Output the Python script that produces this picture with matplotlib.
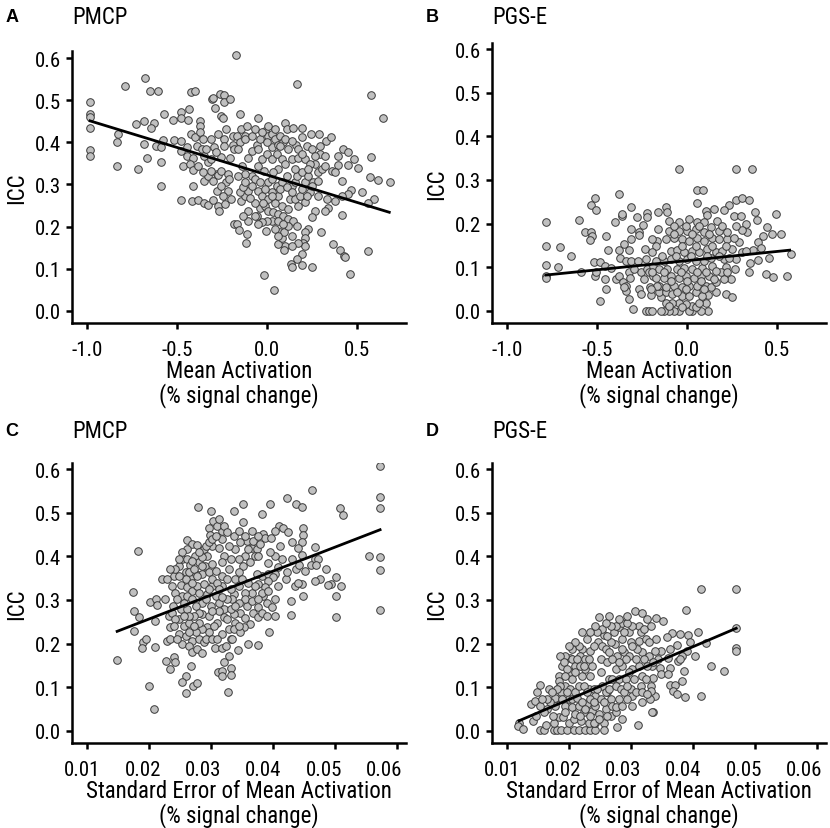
import matplotlib
matplotlib.use("Agg")
import matplotlib.pyplot as plt
from matplotlib.transforms import ScaledTranslation

plt.rcParams['font.family'] = ['Roboto Condensed', 'Liberation Sans Narrow', 'Arial Narrow',
                               'Liberation Sans', 'DejaVu Sans']

# ---- panel A: PMCP, mean activation vs ICC ----
a_x = [-0.985, -0.985, -0.985, -0.985, -0.985, -0.985, -0.793, -0.679, -0.653, -0.609,
       -0.832, -0.836, -0.838, -0.729, -0.686, -0.629, -0.648, -0.686, -0.666, -0.718,
       -0.574, -0.618, -0.592, -0.577, -0.589, -0.589, -0.524, -0.518, -0.482, -0.482,
       -0.434, -0.439, -0.423, -0.404, -0.478, -0.478, -0.446, -0.445, -0.470, -0.423,
       -0.404, -0.375, -0.375, -0.375, -0.358, -0.390, -0.365, -0.415, -0.432, -0.412,
       -0.412, -0.478, -0.419, -0.386, -0.354, -0.330, -0.299, -0.273, -0.269, -0.234,
       -0.352, -0.330, -0.299, -0.280, -0.273, -0.256, -0.220, -0.227, -0.216, -0.280,
       -0.330, -0.297, -0.308, -0.303, -0.264, -0.240, -0.238, -0.209, -0.291, -0.256,
       -0.247, -0.227, -0.275, -0.240, -0.240, -0.256, -0.205, -0.192, -0.192, -0.183,
       -0.183,
       -0.174, 0.163, 0.574, 0.641, -0.150, -0.052, -0.146, -0.111, -0.169, -0.152,
       -0.124, -0.087, -0.161, -0.106, -0.059, -0.041, -0.013, 0.002, 0.024, 0.043,
       0.070, 0.098, 0.107, 0.144, 0.191, 0.117, 0.159, 0.194, 0.219, 0.243,
       0.289, 0.324, 0.352, 0.293, 0.293, 0.422, 0.446, 0.394, 0.481, 0.450,
       0.394, 0.506, 0.576, 0.572, 0.613, 0.681, 0.524, 0.594, 0.561, 0.413,
       0.463, 0.450, 0.417, 0.376, 0.417, 0.330, 0.339, 0.320, 0.280, 0.265,
       0.246, 0.228, 0.296, 0.209, 0.209, 0.196, 0.209, 0.191, 0.163, 0.130,
       0.139, 0.191, 0.246, 0.363, 0.404, 0.428, 0.431, 0.561, 0.461, -0.019,
       0.039, 0.098, 0.094, 0.061, 0.080, 0.070, 0.094, 0.043, 0.024, 0.000,
       -0.031, -0.007, -0.050, -0.059, -0.041, -0.069, -0.109, -0.106, -0.170, -0.157,
       -0.115, -0.120, -0.146, -0.124, -0.106, -0.152, -0.133, -0.050, -0.031, 0.006,
       0.043, 0.061, 0.080, 0.117, 0.126, 0.154, 0.172, 0.181, 0.209, 0.237,
       0.219, 0.006, 0.024, 0.052, 0.080, 0.107, 0.135, 0.154, 0.163, 0.191,
       0.209, 0.228, 0.256, 0.280, 0.265, 0.302, 0.320, 0.357, 0.376, -0.017,
       -0.050, -0.087, -0.124, -0.161, -0.143, -0.069, -0.031, -0.004, 0.024, 0.052,
       0.080, 0.098, 0.135, 0.172, 0.209, 0.237, 0.024, 0.061, 0.089, -0.004,
       -0.050, -0.013, 0.006, 0.033, 0.061, 0.089, 0.117, 0.144, 0.117, 0.163,
       0.024, -0.013,
       -0.124, -0.087, -0.069, -0.031, 0.006, 0.043, 0.070, 0.098, 0.135, 0.172,
       0.191, 0.246, 0.265, 0.320, 0.228, 0.154, 0.061, 0.033, -0.041, -0.087,
       -0.124, -0.096, -0.022, 0.024, 0.070, 0.107, 0.135, 0.191, 0.246, 0.283,
       0.061, 0.089, 0.061, 0.135, 0.172, 0.135, -0.069, -0.133,
       -0.349, -0.312, -0.284, -0.312, -0.339, -0.386, -0.358, -0.312, -0.256, -0.210,
       -0.247, -0.201]
a_y = [0.496, 0.467, 0.461, 0.435, 0.383, 0.367, 0.534, 0.554, 0.521, 0.522,
       0.421, 0.402, 0.344, 0.444, 0.451, 0.447, 0.433, 0.396, 0.362, 0.337,
       0.468, 0.391, 0.388, 0.405, 0.354, 0.297, 0.454, 0.406, 0.471, 0.459,
       0.479, 0.453, 0.519, 0.521, 0.404, 0.380, 0.388, 0.368, 0.343, 0.421,
       0.412, 0.451, 0.438, 0.424, 0.408, 0.392, 0.384, 0.362, 0.348, 0.335,
       0.297, 0.263, 0.260, 0.263, 0.255, 0.252, 0.264, 0.249, 0.236, 0.253,
       0.309, 0.319, 0.309, 0.325, 0.322, 0.333, 0.325, 0.305, 0.285, 0.285,
       0.354, 0.390, 0.503, 0.506, 0.515, 0.512, 0.497, 0.503, 0.481, 0.462,
       0.458, 0.432, 0.420, 0.409, 0.392, 0.366, 0.364, 0.414, 0.394, 0.384,
       0.206,
       0.607, 0.538, 0.513, 0.458, 0.467, 0.458, 0.432, 0.438, 0.416, 0.400,
       0.416, 0.380, 0.384, 0.364, 0.394, 0.408, 0.428, 0.416, 0.420, 0.408,
       0.416, 0.447, 0.432, 0.435, 0.435, 0.384, 0.394, 0.412, 0.392, 0.421,
       0.421, 0.404, 0.413, 0.392, 0.372, 0.384, 0.378, 0.368, 0.360, 0.346,
       0.346, 0.339, 0.366, 0.317, 0.310, 0.307, 0.281, 0.265, 0.257, 0.309,
       0.287, 0.277, 0.273, 0.261, 0.228, 0.265, 0.245, 0.238, 0.273, 0.238,
       0.222, 0.194, 0.188, 0.186, 0.174, 0.161, 0.154, 0.135, 0.124, 0.110,
       0.103, 0.108, 0.105, 0.158, 0.145, 0.131, 0.127, 0.141, 0.087, 0.086,
       0.050, 0.154, 0.145, 0.158, 0.172, 0.186, 0.188, 0.194, 0.214, 0.214,
       0.210, 0.190, 0.206, 0.226, 0.245, 0.257, 0.238, 0.214, 0.206, 0.192,
       0.182, 0.162, 0.260, 0.273, 0.285, 0.281, 0.293, 0.285, 0.272, 0.265,
       0.257, 0.273, 0.249, 0.242, 0.265, 0.265, 0.249, 0.273, 0.259, 0.281,
       0.273, 0.305, 0.313, 0.297, 0.305, 0.321, 0.297, 0.305, 0.321, 0.329,
       0.305, 0.321, 0.305, 0.329, 0.348, 0.336, 0.344, 0.333, 0.329, 0.333,
       0.344, 0.321, 0.325, 0.321, 0.344, 0.313, 0.360, 0.372, 0.360, 0.372,
       0.360, 0.348, 0.360, 0.364, 0.360, 0.348, 0.388, 0.394, 0.400, 0.400,
       0.384, 0.249, 0.238, 0.234, 0.230, 0.226, 0.218, 0.214, 0.202, 0.202,
       0.281, 0.289,
       0.408, 0.416, 0.432, 0.424, 0.439, 0.432, 0.392, 0.408, 0.404, 0.384,
       0.372, 0.384, 0.368, 0.368, 0.336, 0.336, 0.336, 0.329, 0.305, 0.297,
       0.305, 0.269, 0.257, 0.273, 0.289, 0.293, 0.281, 0.289, 0.297, 0.309,
       0.214, 0.206, 0.178, 0.178, 0.162, 0.154, 0.226, 0.226,
       0.368, 0.360, 0.376, 0.408, 0.384, 0.344, 0.329, 0.333, 0.297, 0.313,
       0.273, 0.265]
a_line_x = [-0.985, 0.678]
a_line_y = [0.451, 0.234]

# ---- panel B: PGS-E, mean activation vs ICC ----
b_x = [-0.785, -0.785, -0.785, -0.785, -0.784, -0.705, -0.718, -0.647, -0.603, -0.590,
       -0.571, -0.534, -0.528, -0.543, -0.513, -0.535, -0.509, -0.519, -0.487, -0.513,
       -0.509, -0.457, -0.450, -0.487, -0.450, -0.442, -0.457, -0.424, -0.401, -0.364,
       -0.364, -0.379, -0.382, -0.373, -0.349, -0.323, -0.312, -0.315, -0.313, -0.282,
       -0.267, -0.271, -0.248, -0.226, -0.226, -0.237, -0.394, -0.379, -0.360, -0.341,
       -0.341, -0.351, -0.323, -0.319, -0.323, -0.304, -0.341, -0.313, -0.276, -0.257,
       -0.267, -0.257, -0.295, -0.229, -0.226, -0.239, -0.207, -0.201, -0.229, -0.211,
       -0.196, -0.211, -0.192, -0.192,
       -0.048, 0.269, 0.361, 0.054, 0.087, 0.052, 0.269, 0.302, 0.341, 0.231,
       0.206, 0.259, 0.148, 0.102, 0.107, 0.376, 0.491, 0.389, 0.443, 0.472,
       0.522, 0.422, 0.391, 0.407, 0.365, 0.574, 0.454, 0.391, 0.346, 0.343,
       0.435, 0.474, 0.554, 0.324, 0.333, 0.306, 0.287, 0.306, 0.269, 0.265,
       0.244, 0.204, 0.213, 0.213, 0.246, 0.157, 0.117, 0.102, 0.117, 0.074,
       0.028, 0.009, -0.046, -0.074, -0.102, -0.130, -0.148, 0.028, 0.046, 0.065,
       -0.009, -0.046, -0.083, -0.120, -0.148, -0.157, -0.120, -0.083, -0.028, 0.009,
       0.046, 0.083, -0.157, -0.120, -0.074, -0.028, 0.009, 0.056, 0.102, 0.130,
       0.157, -0.176, -0.130, -0.093, -0.046, -0.009, 0.037, 0.074, 0.120, 0.148,
       0.185, -0.157, -0.111, -0.056, -0.019, 0.028, 0.083, 0.139, 0.157, -0.176,
       -0.130, -0.093, -0.046, 0.000, 0.046, 0.093, 0.130, 0.204, 0.231, -0.093,
       -0.056, -0.019, 0.028, 0.065, 0.111, 0.157, 0.194, 0.250, 0.324, -0.170,
       -0.120, -0.074, -0.028, 0.009, 0.056, 0.093, 0.139, 0.176, 0.222, 0.259,
       -0.163, -0.102, -0.046, 0.000, 0.046, 0.093, 0.130, 0.176, 0.222, -0.102,
       -0.046, 0.009, 0.056, 0.093, 0.167, -0.161, -0.117, -0.111,
       -0.139, -0.065, 0.019, 0.111, 0.176, -0.176, -0.028, 0.046, 0.139, 0.213,
       -0.074, 0.028, 0.120, -0.130, -0.037, 0.056, 0.102, 0.222, -0.167, -0.093,
       0.000, 0.074, -0.056, -0.009, 0.093, -0.102, -0.028, -0.194, -0.194, -0.194,
       -0.204, 0.065, -0.009, -0.074, 0.194, 0.269, 0.296]
b_y = [0.203, 0.148, 0.105, 0.079, 0.076, 0.147, 0.101, 0.125, 0.209, 0.088,
       0.180, 0.180, 0.172, 0.162, 0.259, 0.243, 0.232, 0.111, 0.112, 0.079,
       0.088, 0.074, 0.051, 0.022, 0.172, 0.139, 0.103, 0.097, 0.204, 0.218,
       0.223, 0.268, 0.140, 0.122, 0.152, 0.140, 0.164, 0.187, 0.239, 0.214,
       0.181, 0.174, 0.197, 0.224, 0.216, 0.141, 0.073, 0.079, 0.065, 0.057,
       0.046, 0.054, 0.088, 0.076, 0.027, 0.005, 0.115, 0.115, 0.115, 0.088,
       0.050, 0.038, 0.096, 0.119, 0.096, 0.074, 0.054, 0.036, 0.000, 0.000,
       0.000, 0.088, 0.080, 0.103,
       0.326, 0.326, 0.326, 0.276, 0.278, 0.248, 0.255, 0.259, 0.253, 0.242,
       0.231, 0.218, 0.233, 0.228, 0.220, 0.227, 0.222, 0.209, 0.192, 0.177,
       0.177, 0.171, 0.157, 0.143, 0.140, 0.131, 0.120, 0.117, 0.109, 0.090,
       0.084, 0.078, 0.080, 0.199, 0.180, 0.186, 0.157, 0.134, 0.119, 0.096,
       0.073, 0.073, 0.101, 0.038, 0.032, 0.044, 0.036, 0.019, 0.000, 0.000,
       0.000, 0.000, 0.000, 0.000, 0.000, 0.000, 0.000, 0.011, 0.008, 0.019,
       0.015, 0.019, 0.019, 0.019, 0.031, 0.042, 0.042, 0.038, 0.034, 0.034,
       0.042, 0.034, 0.057, 0.054, 0.057, 0.054, 0.057, 0.057, 0.057, 0.054,
       0.065, 0.076, 0.076, 0.080, 0.076, 0.080, 0.076, 0.080, 0.080, 0.073,
       0.088, 0.096, 0.096, 0.096, 0.099, 0.096, 0.099, 0.103, 0.092, 0.115,
       0.115, 0.119, 0.115, 0.119, 0.115, 0.115, 0.122, 0.119, 0.122, 0.138,
       0.140, 0.134, 0.138, 0.134, 0.141, 0.134, 0.138, 0.141, 0.138, 0.161,
       0.164, 0.168, 0.164, 0.161, 0.168, 0.161, 0.168, 0.164, 0.164, 0.168,
       0.187, 0.183, 0.183, 0.183, 0.187, 0.180, 0.191, 0.183, 0.180, 0.206,
       0.204, 0.210, 0.203, 0.203, 0.206, 0.227, 0.237, 0.226,
       0.126, 0.126, 0.126, 0.126, 0.126, 0.149, 0.149, 0.149, 0.149, 0.149,
       0.176, 0.176, 0.176, 0.088, 0.088, 0.088, 0.088, 0.088, 0.057, 0.069,
       0.069, 0.069, 0.042, 0.050, 0.050, 0.011, 0.008, 0.134, 0.164, 0.088,
       0.050, 0.195, 0.195, 0.195, 0.195, 0.195, 0.218]
b_line_x = [-0.785, 0.569]
b_line_y = [0.082, 0.139]

# ---- panel C: PMCP, standard error vs ICC ----
c_x = [0.01481, 0.01811, 0.01730, 0.01751, 0.01757, 0.01838, 0.01892, 0.01881, 0.01946, 0.02000,
       0.02076, 0.02086, 0.02097, 0.02005, 0.02114, 0.02124, 0.02205, 0.02259, 0.02270, 0.02341,
       0.02395, 0.02422, 0.02286, 0.02330, 0.02341, 0.02314, 0.02378, 0.02400, 0.02503, 0.02530,
       0.02486, 0.02611, 0.02600, 0.02681, 0.02773, 0.02735, 0.02649, 0.02584, 0.02665, 0.02746,
       0.02611, 0.02692, 0.02773, 0.02530, 0.02503, 0.02611, 0.02486, 0.02557, 0.02638, 0.02476,
       0.02595, 0.02692, 0.02530, 0.02638, 0.02692, 0.02773, 0.02800, 0.02854, 0.02665, 0.02584,
       0.02530, 0.02703, 0.02762, 0.02595, 0.02789, 0.02995, 0.03032, 0.02962, 0.02973, 0.02881,
       0.03016, 0.02935, 0.02897, 0.03016, 0.02854, 0.02962, 0.03070, 0.02881, 0.03016, 0.02935,
       0.03070, 0.02854, 0.02989, 0.03124, 0.02854, 0.02962, 0.03097, 0.02935, 0.03043, 0.03178,
       0.02881, 0.03059, 0.03178, 0.03205, 0.03114, 0.03168, 0.03178, 0.03276, 0.03178, 0.03178,
       0.03124, 0.03205, 0.03178, 0.03178, 0.03178, 0.03205, 0.03205,
       0.05722, 0.05722, 0.05722, 0.05722, 0.05551, 0.05722, 0.05722, 0.04631, 0.04219, 0.04369,
       0.04460, 0.05070, 0.05123, 0.03947, 0.03519, 0.03364, 0.03519, 0.03824, 0.04091, 0.04160,
       0.04230, 0.04471, 0.04471, 0.04460, 0.04401, 0.04465, 0.04679, 0.04668, 0.04722, 0.04358,
       0.04412, 0.04508, 0.04604, 0.04695, 0.04856, 0.04749, 0.04668, 0.05005, 0.05096, 0.04936,
       0.04882, 0.05016, 0.05016, 0.04455, 0.04348, 0.04390, 0.04471, 0.04278, 0.04283, 0.04198,
       0.04080, 0.04027, 0.03909, 0.03813, 0.03840, 0.03866, 0.03963, 0.04027, 0.03652, 0.03572,
       0.03652, 0.03733, 0.03706, 0.03545, 0.03465, 0.03385, 0.03439, 0.03733, 0.03920, 0.04000,
       0.03920, 0.03866, 0.03759, 0.03652, 0.03545, 0.03439, 0.03358, 0.03840, 0.03893, 0.03759,
       0.03679, 0.03759, 0.03572, 0.03465, 0.03358, 0.03545, 0.03626, 0.03535, 0.04027, 0.03930,
       0.03599, 0.03749, 0.03428, 0.03385, 0.03332, 0.03321, 0.03321,
       0.02368, 0.02422, 0.02449, 0.02557, 0.02611, 0.02692, 0.02746, 0.02800, 0.02719, 0.02638,
       0.02584, 0.02638, 0.02719, 0.02800, 0.02854, 0.02800, 0.02908, 0.02962, 0.03016, 0.03070,
       0.03097, 0.03124, 0.03205, 0.03259, 0.03286, 0.03314, 0.03286, 0.03259, 0.03314, 0.03259,
       0.03314, 0.03259, 0.03286, 0.03314, 0.03232, 0.03286, 0.02800, 0.02908, 0.02962, 0.03016,
       0.03097, 0.03124, 0.03178, 0.03124, 0.03016, 0.02962, 0.02854, 0.02800, 0.02746, 0.02908,
       0.03016, 0.03097, 0.02773, 0.02854, 0.02692, 0.02611, 0.02530, 0.02476, 0.02422, 0.02476,
       0.02341, 0.02286, 0.02692, 0.02368, 0.02422, 0.02395, 0.02449, 0.02557, 0.02638, 0.02719,
       0.03358, 0.03439, 0.03545, 0.03599, 0.03679, 0.03759, 0.03786, 0.03759, 0.03626, 0.03519,
       0.03439, 0.03385, 0.03492, 0.03599, 0.03706, 0.03813, 0.03920, 0.03545, 0.03439, 0.03385,
       0.03652, 0.03759, 0.03813, 0.03893, 0.03973, 0.04027, 0.04080, 0.04134, 0.04214, 0.04294,
       0.04294, 0.04107, 0.04027, 0.03947, 0.03358, 0.03465, 0.03332, 0.03439]
c_y = [0.162, 0.413, 0.319, 0.274, 0.228, 0.260, 0.203, 0.189, 0.210, 0.102,
       0.050, 0.191, 0.251, 0.296, 0.302, 0.288, 0.349, 0.302, 0.161, 0.141,
       0.170, 0.157, 0.206, 0.210, 0.237, 0.264, 0.287, 0.354, 0.334, 0.394,
       0.377, 0.394, 0.438, 0.428, 0.426, 0.401, 0.380, 0.363, 0.352, 0.359,
       0.329, 0.321, 0.333, 0.310, 0.279, 0.279, 0.256, 0.241, 0.248, 0.222,
       0.218, 0.206, 0.199, 0.195, 0.181, 0.187, 0.210, 0.178, 0.149, 0.126,
       0.111, 0.103, 0.109, 0.086, 0.512, 0.503, 0.480, 0.466, 0.449, 0.417,
       0.423, 0.401, 0.378, 0.382, 0.359, 0.363, 0.367, 0.336, 0.333, 0.313,
       0.310, 0.294, 0.287, 0.294, 0.268, 0.264, 0.248, 0.237, 0.241, 0.222,
       0.203, 0.189, 0.189, 0.157, 0.134, 0.136, 0.126, 0.088, 0.459, 0.440,
       0.420, 0.401, 0.386, 0.355, 0.333, 0.279, 0.260,
       0.606, 0.537, 0.511, 0.398, 0.401, 0.369, 0.278, 0.553, 0.533, 0.521,
       0.513, 0.510, 0.495, 0.521, 0.521, 0.505, 0.479, 0.496, 0.470, 0.466,
       0.456, 0.466, 0.449, 0.433, 0.420, 0.403, 0.422, 0.394, 0.394, 0.372,
       0.380, 0.367, 0.380, 0.380, 0.370, 0.348, 0.343, 0.352, 0.331, 0.336,
       0.334, 0.310, 0.261, 0.336, 0.333, 0.340, 0.310, 0.297, 0.266, 0.348,
       0.375, 0.359, 0.385, 0.356, 0.451, 0.443, 0.443, 0.459, 0.459, 0.436,
       0.420, 0.417, 0.401, 0.401, 0.432, 0.417, 0.394, 0.359, 0.359, 0.352,
       0.344, 0.329, 0.336, 0.317, 0.317, 0.333, 0.313, 0.310, 0.294, 0.283,
       0.271, 0.260, 0.287, 0.271, 0.268, 0.258, 0.245, 0.237, 0.264, 0.227,
       0.200, 0.196, 0.186, 0.248, 0.302, 0.145, 0.128,
       0.333, 0.317, 0.302, 0.294, 0.310, 0.302, 0.287, 0.271, 0.264, 0.264,
       0.348, 0.363, 0.371, 0.386, 0.398, 0.409, 0.424, 0.432, 0.440, 0.447,
       0.470, 0.485, 0.470, 0.455, 0.424, 0.394, 0.371, 0.348, 0.325, 0.302,
       0.279, 0.256, 0.233, 0.210, 0.195, 0.172, 0.317, 0.302, 0.325, 0.348,
       0.340, 0.325, 0.306, 0.275, 0.275, 0.226, 0.233, 0.248, 0.226, 0.210,
       0.210, 0.210, 0.356, 0.378, 0.390, 0.417, 0.409, 0.394, 0.371, 0.356,
       0.371, 0.348, 0.340, 0.271, 0.256, 0.241, 0.210, 0.264, 0.226, 0.241,
       0.447, 0.459, 0.447, 0.417, 0.436, 0.447, 0.428, 0.401, 0.386, 0.378,
       0.363, 0.348, 0.348, 0.340, 0.333, 0.317, 0.321, 0.302, 0.294, 0.287,
       0.298, 0.302, 0.271, 0.264, 0.283, 0.302, 0.333, 0.394, 0.363, 0.394,
       0.432, 0.424, 0.401, 0.409, 0.233, 0.226, 0.210, 0.241]
c_line_x = [0.01481, 0.05722]
c_line_y = [0.228, 0.461]

# ---- panel D: PGS-E, standard error vs ICC ----
d_x = [0.01189, 0.01178, 0.01259, 0.01384, 0.01449, 0.01476, 0.01535, 0.01422, 0.01465, 0.01519,
       0.01584, 0.01622, 0.01665, 0.01746, 0.01800, 0.01870, 0.01962, 0.02070, 0.02151, 0.02259,
       0.02341, 0.02411, 0.01746, 0.01827, 0.01730, 0.01892, 0.01989, 0.02070, 0.02195, 0.02314,
       0.02422, 0.02557, 0.02557, 0.02773, 0.02843, 0.03108, 0.01773, 0.01773, 0.01827, 0.01827,
       0.01762, 0.01870, 0.01935, 0.01989, 0.01935, 0.02043, 0.02097, 0.02151, 0.02232, 0.02286,
       0.02368, 0.02422, 0.02476, 0.02584, 0.02665, 0.02746, 0.02016, 0.02043, 0.02097, 0.02016,
       0.01935, 0.02016, 0.02097, 0.02151, 0.02205, 0.02205, 0.02286, 0.02205, 0.02178, 0.02259,
       0.02259, 0.02341, 0.02368, 0.02341, 0.02314, 0.02395, 0.02422, 0.02465, 0.02486, 0.02557,
       0.02530, 0.02503, 0.02584, 0.02611, 0.02503, 0.02530, 0.02638, 0.02611, 0.02665, 0.02800,
       0.02719, 0.02800, 0.02843, 0.02730, 0.02854, 0.02773, 0.02881, 0.02746, 0.02854, 0.02800,
       0.02908, 0.02962, 0.02989, 0.02962, 0.03016, 0.02989, 0.03016, 0.03059, 0.03168, 0.03124,
       0.03151, 0.03124, 0.03178, 0.03124, 0.03178, 0.03151, 0.03178, 0.03232, 0.03286, 0.03341,
       0.03314, 0.03351, 0.01881, 0.01935,
       0.04124, 0.04692, 0.04692, 0.04692, 0.04692, 0.03876, 0.03405, 0.03514, 0.04081, 0.03919,
       0.03784, 0.03649, 0.03578, 0.03730, 0.03946, 0.04205, 0.04027, 0.03892, 0.03811, 0.03622,
       0.03486, 0.03378, 0.03432, 0.03595, 0.03757, 0.03351, 0.03459, 0.03622, 0.03784, 0.03486,
       0.03595, 0.03351, 0.03854, 0.03822, 0.04281, 0.04497, 0.03622, 0.03703, 0.03676, 0.03730,
       0.03865, 0.04124, 0.03378, 0.03297, 0.03341, 0.03324, 0.03405,
       0.01854, 0.01908, 0.01962, 0.02043, 0.02097, 0.02124, 0.02178, 0.02232, 0.02286, 0.02341,
       0.02395, 0.02449, 0.02503, 0.02557, 0.02584, 0.02638, 0.02692, 0.02746, 0.02827, 0.02881,
       0.02935, 0.02962, 0.03043, 0.03070, 0.03097, 0.03016, 0.02908, 0.02854, 0.02800, 0.02692,
       0.02638, 0.02665, 0.02611, 0.02530, 0.02449, 0.02395, 0.02314, 0.02232, 0.02151, 0.02097,
       0.02043, 0.01989, 0.01935, 0.01854, 0.01800, 0.01719, 0.01692, 0.01638, 0.01584, 0.01638,
       0.01530, 0.01557, 0.01881, 0.01962, 0.02043, 0.02124, 0.02205, 0.02259, 0.02178, 0.02341,
       0.02395, 0.02476, 0.02611, 0.02692, 0.02746, 0.02854, 0.02935, 0.03016, 0.03070, 0.03205,
       0.03259, 0.03232, 0.03178, 0.03259, 0.03286, 0.03205, 0.03259, 0.03314, 0.03016, 0.02935,
       0.02881, 0.02746, 0.02665, 0.02584, 0.02422, 0.02341, 0.02638, 0.02800, 0.02935]
d_y = [0.019, 0.011, 0.004, 0.061, 0.069, 0.088, 0.106, 0.023, 0.034, 0.002,
       0.002, 0.013, 0.096, 0.002, 0.002, 0.002, 0.002, 0.002, 0.002, 0.002,
       0.002, 0.002, 0.019, 0.031, 0.034, 0.031, 0.019, 0.027, 0.023, 0.019,
       0.019, 0.019, 0.002, 0.008, 0.027, 0.014, 0.073, 0.057, 0.126, 0.115,
       0.076, 0.088, 0.057, 0.073, 0.042, 0.054, 0.038, 0.057, 0.042, 0.061,
       0.046, 0.057, 0.038, 0.050, 0.034, 0.042, 0.168, 0.164, 0.149, 0.134,
       0.103, 0.096, 0.088, 0.103, 0.126, 0.227, 0.210, 0.187, 0.172, 0.164,
       0.141, 0.183, 0.149, 0.126, 0.096, 0.096, 0.080, 0.203, 0.260, 0.219,
       0.195, 0.164, 0.187, 0.157, 0.134, 0.103, 0.119, 0.088, 0.073, 0.073,
       0.226, 0.237, 0.248, 0.199, 0.210, 0.172, 0.180, 0.141, 0.149, 0.119,
       0.119, 0.226, 0.203, 0.172, 0.141, 0.096, 0.080, 0.275, 0.269, 0.241,
       0.226, 0.206, 0.180, 0.149, 0.126, 0.103, 0.067, 0.210, 0.172, 0.149,
       0.103, 0.042, 0.149, 0.172,
       0.326, 0.326, 0.235, 0.190, 0.184, 0.278, 0.258, 0.252, 0.227, 0.219,
       0.222, 0.224, 0.214, 0.196, 0.203, 0.202, 0.172, 0.183, 0.172, 0.187,
       0.183, 0.183, 0.164, 0.168, 0.161, 0.157, 0.145, 0.145, 0.164, 0.130,
       0.130, 0.122, 0.137, 0.115, 0.148, 0.137, 0.106, 0.106, 0.092, 0.084,
       0.077, 0.080, 0.079, 0.073, 0.044, 0.092, 0.210,
       0.172, 0.157, 0.141, 0.119, 0.134, 0.164, 0.149, 0.103, 0.088, 0.073,
       0.065, 0.096, 0.073, 0.065, 0.088, 0.096, 0.119, 0.103, 0.096, 0.088,
       0.103, 0.134, 0.119, 0.164, 0.187, 0.195, 0.164, 0.187, 0.157, 0.164,
       0.180, 0.203, 0.218, 0.233, 0.226, 0.195, 0.164, 0.149, 0.195, 0.203,
       0.187, 0.195, 0.126, 0.103, 0.096, 0.088, 0.065, 0.050, 0.042, 0.073,
       0.057, 0.073, 0.073, 0.088, 0.073, 0.076, 0.065, 0.050, 0.034, 0.034,
       0.019, 0.027, 0.034, 0.057, 0.054, 0.057, 0.073, 0.057, 0.088, 0.164,
       0.149, 0.119, 0.088, 0.084, 0.203, 0.233, 0.256, 0.241, 0.241, 0.248,
       0.226, 0.241, 0.241, 0.248, 0.241, 0.226, 0.264, 0.256, 0.264]
d_line_x = [0.01189, 0.04692]
d_line_y = [0.023, 0.235]

letters = ['A', 'B', 'C', 'D']
titles = ['PMCP', 'PGS-E', 'PMCP', 'PGS-E']
xlabels = ['Mean Activation\n(% signal change)', 'Mean Activation\n(% signal change)',
           'Standard Error of Mean Activation\n(% signal change)',
           'Standard Error of Mean Activation\n(% signal change)']
act_ticks = [-1.0, -0.5, 0.0, 0.5]
se_ticks = [0.01, 0.02, 0.03, 0.04, 0.05, 0.06]
icc_ticks = [0.0, 0.1, 0.2, 0.3, 0.4, 0.5, 0.6]

W, H = 830, 829
fig = plt.figure(figsize=(W / 100, H / 100), dpi=100)

# axes boxes in pixels: left, right, top, bottom
boxes = [(71.7, 406, 52, 324), (491.7, 826, 44, 324),
         (71.7, 406, 464, 744), (491.7, 826, 464, 744)]
ylims = [(-0.029, 0.617), (-0.028, 0.614), (-0.028, 0.614), (-0.028, 0.614)]
xlims = [(-1.087, 0.771), (-1.087, 0.771), (0.00748, 0.0614), (0.00748, 0.0614)]
data = [(a_x, a_y, a_line_x, a_line_y), (b_x, b_y, b_line_x, b_line_y),
        (c_x, c_y, c_line_x, c_line_y), (d_x, d_y, d_line_x, d_line_y)]

for i in range(4):
    l, r, t, b = boxes[i]
    ax = fig.add_axes([l / W, (H - b) / H, (r - l) / W, (b - t) / H])
    xs, ys, lx, ly = data[i]
    ax.scatter(xs, ys, s=30, facecolor='#c0c0c0', edgecolor='#3a3a3a',
               linewidth=0.7, zorder=2)
    ax.plot(lx, ly, color='black', lw=2.0, zorder=3)
    ax.set_xlim(*xlims[i])
    ax.set_ylim(*ylims[i])
    ax.set_yticks(icc_ticks)
    ax.set_yticklabels(['%.1f' % v for v in icc_ticks])
    if i < 2:
        ax.set_xticks(act_ticks)
        ax.set_xticklabels(['%.1f' % v for v in act_ticks])
    else:
        ax.set_xticks(se_ticks)
        ax.set_xticklabels(['%.2f' % v for v in se_ticks])
    for s in ['top', 'right']:
        ax.spines[s].set_visible(False)
    for s in ['left', 'bottom']:
        ax.spines[s].set_linewidth(1.8)
    ax.tick_params(width=1.8, length=4.5, labelsize=15, direction='out')
    ax.tick_params(axis='x', pad=8)
    ax.tick_params(axis='y', pad=3)
    if i >= 2:
        # in the original these labels drift left of their ticks
        for k, lab in enumerate(ax.get_xticklabels()):
            dx = -(5 + 1.6 * k) / 100
            lab.set_transform(lab.get_transform() + ScaledTranslation(dx, 0, fig.dpi_scale_trans))
    ax.set_xlabel(xlabels[i], fontsize=16.5, linespacing=1.0, labelpad=0)
    ax.set_ylabel('ICC', fontsize=16.5, labelpad=5)
    ty = 18 if i < 2 else 432
    fig.text((l - 66) / W, 1 - ty / H, letters[i], fontsize=13, fontweight='bold',
             va='center', ha='left', family=['Liberation Sans', 'DejaVu Sans'])
    fig.text((l + 1) / W, 1 - ty / H, titles[i], fontsize=16.5, va='center', ha='left')

fig.savefig('out.png', dpi=100)
